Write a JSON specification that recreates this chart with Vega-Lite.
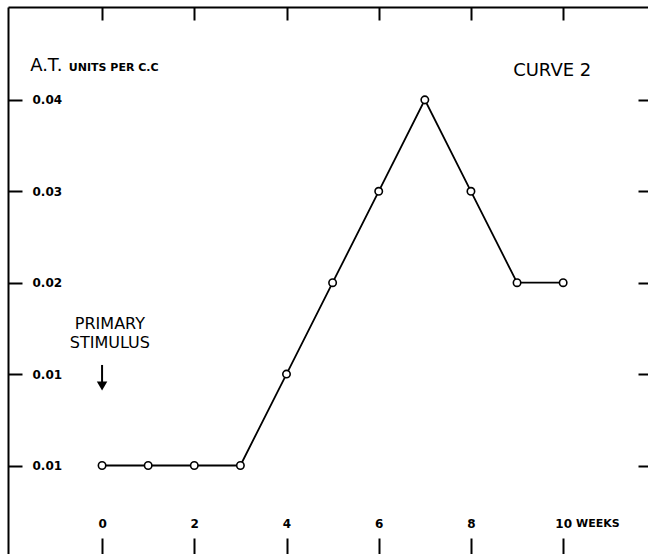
{
  "$schema": "https://vega.github.io/schema/vega-lite/v6.json",
  "width": 640,
  "height": 547,
  "padding": {"left": 8, "top": 7, "right": 0, "bottom": 0},
  "autosize": {"type": "none"},
  "background": "white",
  "config": {
    "view": {"stroke": null},
    "font": "DejaVu Sans",
    "axis": {"grid": false, "domainColor": "black", "tickColor": "black", "labelColor": "black", "labelFont": "DejaVu Sans"}
  },
  "datasets": {
    "curve": [
      {"week": 0, "level": 0},
      {"week": 1, "level": 0},
      {"week": 2, "level": 0},
      {"week": 3, "level": 0},
      {"week": 4, "level": 1},
      {"week": 5, "level": 2},
      {"week": 6, "level": 3},
      {"week": 7, "level": 4},
      {"week": 8, "level": 3},
      {"week": 9, "level": 2},
      {"week": 10, "level": 2}
    ],
    "big": [
      {"week": -1.56, "level": 4.316, "text": "A.T."},
      {"week": 8.915, "level": 4.262, "text": "CURVE 2"}
    ],
    "small": [
      {"week": -0.72, "level": 4.316, "text": "UNITS PER C.C"},
      {"week": 10.28, "level": -0.673, "text": "WEEKS"}
    ],
    "stimulus": [
      {"week": 0.17, "level": 1.548, "text": "PRIMARY"},
      {"week": 0.17, "level": 1.34, "text": "STIMULUS"}
    ],
    "arrow": [
      {"week": 0, "top": 1.1, "bottom": 0.9, "head": 0.87}
    ]
  },
  "layer": [
    {
      "data": {"name": "curve"},
      "mark": {"type": "line", "color": "black", "strokeWidth": 1.8},
      "encoding": {
        "x": {
          "field": "week", "type": "quantitative",
          "scale": {"domain": [-2.04, 11.84], "nice": false, "zero": false},
          "axis": {"orient": "top", "offset": -547, "values": [0, 2, 4, 6, 8, 10], "tickSize": 16, "tickWidth": 2, "domain": false, "labelPadding": 11, "labelFontSize": 12, "labelFontWeight": "bold", "labelBaseline": "alphabetic", "labelFlush": false, "labelOverlap": false, "title": null}
        },
        "y": {
          "field": "level", "type": "quantitative",
          "scale": {"domain": [-0.968, 5.016], "nice": false, "zero": false},
          "axis": {"orient": "right", "offset": -640, "values": [0, 1, 2, 3, 4], "tickSize": 14, "tickWidth": 2, "domainWidth": 2, "labelPadding": 10, "labelFontSize": 12, "labelFontWeight": "bold", "labelFlush": false, "labelOverlap": false, "labelExpr": "datum.value == 4 ? '0.04' : datum.value == 3 ? '0.03' : datum.value == 2 ? '0.02' : '0.01'", "title": null}
        }
      }
    },
    {
      "data": {"name": "curve"},
      "mark": {"type": "point", "shape": "circle", "filled": true, "fill": "white", "stroke": "black", "strokeWidth": 1.6, "size": 55, "opacity": 1},
      "encoding": {
        "x": {
          "field": "week", "type": "quantitative",
          "scale": {"domain": [-2.04, 11.84], "nice": false, "zero": false},
          "axis": {"orient": "bottom", "offset": -547, "values": [0, 2, 4, 6, 8, 10], "tickSize": 13, "tickWidth": 2, "labels": false, "domain": true, "domainWidth": 2, "title": null}
        },
        "y": {
          "field": "level", "type": "quantitative",
          "scale": {"domain": [-0.968, 5.016], "nice": false, "zero": false},
          "axis": {"orient": "left", "offset": -640, "values": [0, 1, 2, 3, 4], "tickSize": 10, "tickWidth": 2, "labels": false, "domain": false, "title": null}
        }
      }
    },
    {
      "data": {"name": "big"},
      "mark": {"type": "text", "align": "left", "baseline": "alphabetic", "fontSize": 18, "color": "black"},
      "encoding": {
        "x": {"field": "week", "type": "quantitative", "axis": null},
        "y": {"field": "level", "type": "quantitative", "axis": null},
        "text": {"field": "text"}
      }
    },
    {
      "data": {"name": "small"},
      "mark": {"type": "text", "align": "left", "baseline": "alphabetic", "fontSize": 11, "fontWeight": "bold", "color": "black"},
      "encoding": {
        "x": {"field": "week", "type": "quantitative", "axis": null},
        "y": {"field": "level", "type": "quantitative", "axis": null},
        "text": {"field": "text"}
      }
    },
    {
      "data": {"name": "stimulus"},
      "mark": {"type": "text", "align": "center", "baseline": "middle", "fontSize": 16, "color": "black"},
      "encoding": {
        "x": {"field": "week", "type": "quantitative", "axis": null},
        "y": {"field": "level", "type": "quantitative", "axis": null},
        "text": {"field": "text"}
      }
    },
    {
      "data": {"name": "arrow"},
      "mark": {"type": "rule", "color": "black", "strokeWidth": 2},
      "encoding": {
        "x": {"field": "week", "type": "quantitative", "axis": null},
        "y": {"field": "top", "type": "quantitative", "axis": null},
        "y2": {"field": "bottom"}
      }
    },
    {
      "data": {"name": "arrow"},
      "mark": {"type": "point", "shape": "triangle-down", "filled": true, "color": "black", "size": 110, "opacity": 1},
      "encoding": {
        "x": {"field": "week", "type": "quantitative", "axis": null},
        "y": {"field": "head", "type": "quantitative", "axis": null}
      }
    }
  ],
  "resolve": {"axis": {"x": "independent", "y": "independent"}}
}
